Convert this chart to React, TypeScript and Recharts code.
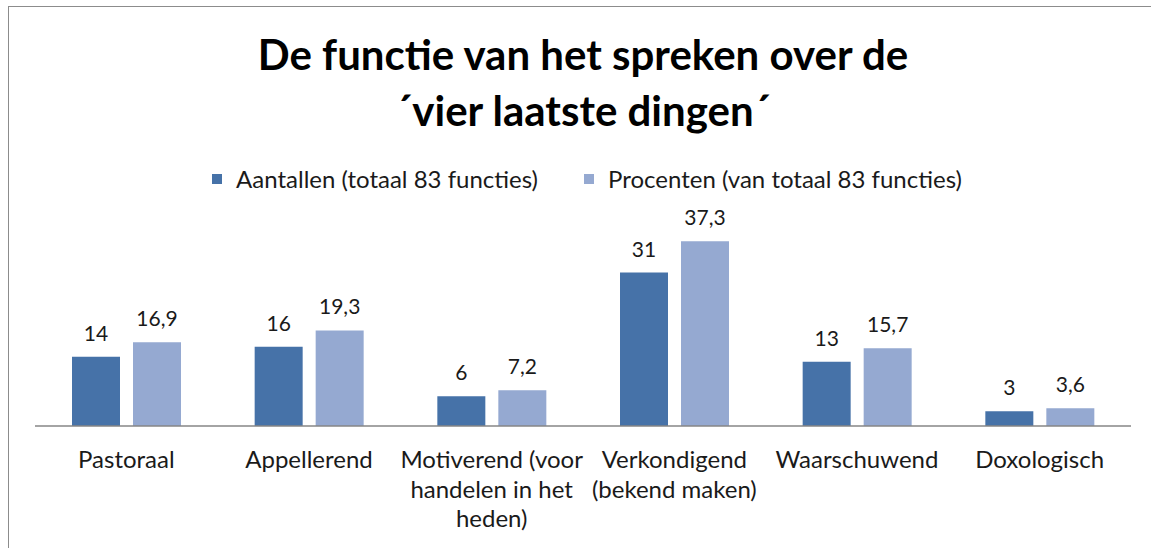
import { BarChart, Bar, XAxis, YAxis, LabelList } from 'recharts'

const categories = [
  'Pastoraal',
  'Appellerend',
  'Motiverend (voor\nhandelen in het\nheden)',
  'Verkondigend\n(bekend maken)',
  'Waarschuwend',
  'Doxologisch',
]
const aantallen = [14, 16, 6, 31, 13, 3]
const procenten = [16.9, 19.3, 7.2, 37.3, 15.7, 3.6]

const titleLines = ['De functie van het spreken over de', '´vier laatste dingen´']
const seriesNames = ['Aantallen (totaal 83 functies)', 'Procenten (van totaal 83 functies)']
const colors = ['#4672A8', '#95A9D1']

const data = categories.map((name, i) => ({
  name,
  aantallen: aantallen[i],
  procenten: procenten[i],
}))

const FONT = 'Lato, "Open Sans", sans-serif'

const fmt = (v: any) => String(v).replace('.', ',')

const CategoryTick = (props: any) => {
  const { x, y, payload } = props
  const lines = String(payload.value).split('\n')
  return (
    <text x={x} y={y} textAnchor="middle" fill="#1a1a1a" fontFamily={FONT} fontSize={24}>
      {lines.map((line, i) => (
        <tspan key={i} x={x} dy={i === 0 ? 34 : 29.5}>
          {line}
        </tspan>
      ))}
    </text>
  )
}

export default function App() {
  return (
    <div style={{ position: 'absolute', left: 0, top: 0, width: 1151, height: 548, background: '#fff', overflow: 'hidden' }}>
      <div
        style={{
          position: 'absolute',
          left: 8,
          top: 6,
          width: 1200,
          height: 600,
          borderLeft: '1.5px solid #8c8c8c',
          borderTop: '1.5px solid #8c8c8c',
        }}
      />
      <div
        style={{
          position: 'absolute',
          left: 0,
          top: 26,
          width: 1166,
          textAlign: 'center',
          fontFamily: FONT,
          fontWeight: 700,
          fontSize: 42,
          lineHeight: '56px',
          color: '#000',
        }}
      >
        {titleLines.map((l) => (
          <div key={l}>{l}</div>
        ))}
      </div>
      <div
        style={{
          position: 'absolute',
          left: 4,
          top: 164,
          width: 1166,
          display: 'flex',
          justifyContent: 'center',
          gap: 46,
          fontFamily: FONT,
          fontSize: 24,
          lineHeight: '30px',
          color: '#1a1a1a',
        }}
      >
        {seriesNames.map((n, i) => (
          <div key={n} style={{ display: 'flex', alignItems: 'center' }}>
            <span style={{ display: 'inline-block', width: 10, height: 10, background: colors[i], marginRight: 14 }} />
            <span>{n}</span>
          </div>
        ))}
      </div>
      <div style={{ position: 'absolute', left: 0, top: 0 }}>
        <BarChart
          width={1151}
          height={548}
          data={data}
          margin={{ top: 228, right: 20, bottom: 22, left: 35 }}
          barCategoryGap={37}
          barGap={13}
        >
          <XAxis
            dataKey="name"
            interval={0}
            height={100}
            tickLine={false}
            axisLine={{ stroke: '#868686', strokeWidth: 1.5 }}
            tick={<CategoryTick />}
          />
          <YAxis hide domain={[0, 40]} />
          <Bar dataKey="aantallen" name={seriesNames[0]} fill={colors[0]} isAnimationActive={false}>
            <LabelList dataKey="aantallen" position="top" offset={16} formatter={fmt} fill="#1a1a1a" fontFamily={FONT} fontSize={21} />
          </Bar>
          <Bar dataKey="procenten" name={seriesNames[1]} fill={colors[1]} isAnimationActive={false}>
            <LabelList dataKey="procenten" position="top" offset={16} formatter={fmt} fill="#1a1a1a" fontFamily={FONT} fontSize={21} />
          </Bar>
        </BarChart>
      </div>
    </div>
  )
}
